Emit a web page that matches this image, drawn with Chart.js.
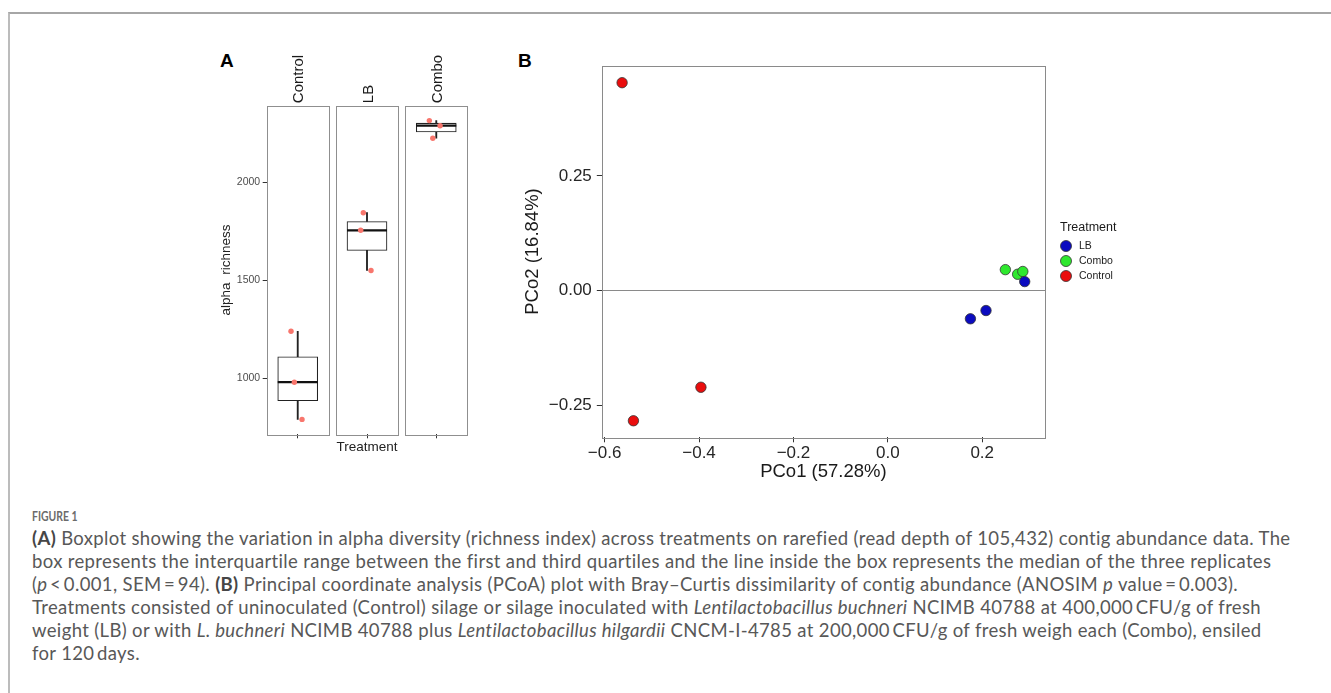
<!DOCTYPE html>
<html>
<head>
<meta charset="utf-8">
<script src="https://cdn.jsdelivr.net/npm/chart.js@4.4.0/dist/chart.umd.min.js"></script>
<style>
  html, body { margin: 0; padding: 0; background: #fff; }
  #page { position: relative; width: 1331px; height: 693px; overflow: hidden; }
  #frame { position: absolute; left: 8px; top: 12px; right: -4px; bottom: -4px;
           border-top: 2px solid #a6a6a6; border-left: 2px solid #bcbcbc; }
  #chartA { position: absolute; left: 200px; top: 40px; }
  #chartB { position: absolute; left: 510px; top: 40px; }
  .tag { position: absolute; font: bold 19px 'Liberation Sans', Arial, sans-serif; line-height: 19px; color: #000; }
  #figno { position: absolute; left: 32px; top: 508px; font: bold 13px Lato, sans-serif;
           color: #6b6b6b; line-height: 17px; transform: scaleX(0.8); transform-origin: left center; }
  #caption { position: absolute; left: 32px; top: 527px; font: 18.5px Lato, sans-serif;
             letter-spacing: 0.35px; color: #585858; line-height: 23px; white-space: nowrap; }
  #caption b { color: #464646; }
</style>
</head>
<body>
<div id="page">
  <div id="frame"></div>
  <div class="tag" style="left:220px; top:51px;">A</div>
  <div class="tag" style="left:518px; top:51px;">B</div>
  <canvas id="chartA" width="320" height="420"></canvas>
  <canvas id="chartB" width="620" height="450"></canvas>
  <div id="figno">FIGURE 1</div>
  <div id="caption">
    <b>(A)</b> Boxplot showing the variation in alpha diversity (richness index) across treatments on rarefied (read depth of 105,432) contig abundance data. The<br>
    box represents the interquartile range between the first and third quartiles and the line inside the box represents the median of the three replicates<br>
    (<i>p</i>&thinsp;&lt;&thinsp;0.001, SEM&thinsp;=&thinsp;94). <b>(B)</b> Principal coordinate analysis (PCoA) plot with Bray–Curtis dissimilarity of contig abundance (ANOSIM <i>p</i> value&thinsp;=&thinsp;0.003).<br>
    Treatments consisted of uninoculated (Control) silage or silage inoculated with <i>Lentilactobacillus buchneri</i> NCIMB 40788 at 400,000&thinsp;CFU/g of fresh<br>
    weight (LB) or with <i>L. buchneri</i> NCIMB 40788 plus <i>Lentilactobacillus hilgardii</i> CNCM-I-4785 at 200,000&thinsp;CFU/g of fresh weigh each (Combo), ensiled<br>
    for 120&thinsp;days.
  </div>
</div>

<script>
// alpha richness of the three replicates per treatment
const treatments = ["Control", "LB", "Combo"];
const richnessControl = [1240, 980, 790];
const richnessLB = [1845, 1755, 1550];
const richnessCombo = [2315, 2289, 2225];
// horizontal jitter of the replicate dots (x in facet units)
const jitterControl = [0.903, 0.951, 1.062];
const jitterLB = [1.947, 1.909, 2.058];
const jitterCombo = [2.900, 3.055, 2.950];
const richnessTicks = [1000, 1500, 2000];

// PCoA scores
const lbPC1 = [0.175, 0.208, 0.290];
const lbPC2 = [-0.061, -0.043, 0.020];
const comboPC1 = [0.249, 0.275, 0.286];
const comboPC2 = [0.046, 0.036, 0.042];
const controlPC1 = [-0.563, -0.539, -0.396];
const controlPC2 = [0.453, -0.283, -0.210];
const pc1Ticks = [-0.6, -0.4, -0.2, 0, 0.2];
const pc2Ticks = [-0.25, 0, 0.25];

Chart.defaults.font.family = "'Liberation Sans', Arial, sans-serif";
Chart.defaults.animation = false;
Chart.defaults.events = [];

function quantile(values, p) {
  const s = [...values].sort((a, b) => a - b);
  const h = (s.length - 1) * p;
  const lo = Math.floor(h);
  const hi = Math.min(lo + 1, s.length - 1);
  return s[lo] + (h - lo) * (s[hi] - s[lo]);
}

function minusFmt(v, digits) {
  const t = Math.abs(v).toFixed(digits);
  return v < 0 ? "\u2212" + t : t;
}

const groups = [richnessControl, richnessLB, richnessCombo];
const jitters = [jitterControl, jitterLB, jitterCombo];
const stats = groups.map((g, i) => ({
  x: i + 1,
  min: Math.min(...g),
  q1: quantile(g, 0.25),
  med: quantile(g, 0.5),
  q3: quantile(g, 0.75),
  max: Math.max(...g),
}));

const facetGap = 0.052;

// facet panels and strip labels
const facetPlugin = {
  id: "facets",
  beforeDatasetsDraw(chart) {
    const { ctx, chartArea, scales } = chart;
    ctx.save();
    ctx.strokeStyle = "#8f8f8f";
    ctx.lineWidth = 1;
    treatments.forEach((name, i) => {
      const l = scales.x.getPixelForValue(i + 0.5 + facetGap);
      const r = scales.x.getPixelForValue(i + 1.5 - facetGap);
      ctx.strokeRect(Math.round(l) + 0.5, Math.round(chartArea.top) + 0.5,
        Math.round(r - l), Math.round(chartArea.bottom - chartArea.top));
      const cx = scales.x.getPixelForValue(i + 1);
      ctx.save();
      ctx.translate(cx + 1.5, chartArea.top - 2.5);
      ctx.rotate(-Math.PI / 2);
      ctx.fillStyle = "#1a1a1a";
      ctx.font = "15px 'Liberation Sans', Arial, sans-serif";
      ctx.textAlign = "left";
      ctx.textBaseline = "middle";
      ctx.fillText(name, 0, 0);
      ctx.restore();
    });
    ctx.restore();
  },
  // median line, drawn right after the boxes so the dots stay on top
  afterDatasetDraw(chart, args) {
    if (args.index !== 1) return;
    const { ctx, scales } = chart;
    ctx.save();
    ctx.strokeStyle = "#111";
    ctx.lineWidth = 2.3;
    args.meta.data.forEach((bar, i) => {
      const y = scales.y.getPixelForValue(stats[i].med);
      ctx.beginPath();
      ctx.moveTo(bar.x - bar.width / 2, y);
      ctx.lineTo(bar.x + bar.width / 2, y);
      ctx.stroke();
    });
    ctx.restore();
  },
};

new Chart(document.getElementById("chartA"), {
  type: "bar",
  data: {
    datasets: [
      {
        type: "scatter",
        label: "replicates",
        data: groups.flatMap((g, i) => g.map((v, j) => ({ x: jitters[i][j], y: v }))),
        backgroundColor: "#f8766d",
        borderWidth: 0,
        pointRadius: 2.7,
        order: 0,
      },
      {
        label: "box",
        data: stats.map((s) => ({ x: s.x, y: [s.q1, s.q3] })),
        backgroundColor: "#fff",
        borderColor: "#222",
        borderWidth: 1.1,
        borderSkipped: false,
        barThickness: 40,
        grouped: false,
        order: 1,
      },
      {
        label: "upper whisker",
        data: stats.map((s) => ({ x: s.x, y: [s.q3, s.max] })),
        backgroundColor: "#222",
        barThickness: 1.2,
        grouped: false,
        order: 2,
      },
      {
        label: "lower whisker",
        data: stats.map((s) => ({ x: s.x, y: [s.min, s.q1] })),
        backgroundColor: "#222",
        barThickness: 1.2,
        grouped: false,
        order: 3,
      },
    ],
  },
  options: {
    responsive: false,
    layout: { padding: { top: 65.7, right: 52.7, left: 0, bottom: 0 } },
    plugins: { legend: { display: false }, tooltip: { enabled: false } },
    scales: {
      x: {
        type: "linear",
        offset: false,
        min: 0.5 + facetGap,
        max: 3.5 - facetGap,
        afterBuildTicks: (s) => { s.ticks = treatments.map((t, i) => ({ value: i + 1 })); },
        ticks: { display: false },
        grid: { offset: false, drawOnChartArea: false, tickLength: 4, color: "#333" },
        border: { display: false },
        title: {
          display: true,
          text: "Treatment",
          color: "#222",
          font: { size: 13.5 },
          padding: { top: 0, bottom: 5 },
        },
        afterFit: (s) => { s.height = 25.7; },
      },
      y: {
        min: 714,
        max: 2391,
        afterBuildTicks: (s) => { s.ticks = richnessTicks.map((v) => ({ value: v })); },
        ticks: { color: "#4d4d4d", font: { size: 10.5 }, padding: 2.5, callback: (v) => String(v) },
        grid: { drawOnChartArea: false, tickLength: 4, color: "#333" },
        border: { display: false },
        title: {
          display: true,
          text: "alpha  richness",
          color: "#222",
          font: { size: 13.5 },
          padding: { top: 18.5, bottom: 0 },
        },
        afterFit: (s) => { s.width = 66.7; },
      },
    },
  },
  plugins: [facetPlugin],
});

// PCoA panel: frame and treatment key
const frameLegendPlugin = {
  id: "frameLegend",
  beforeDatasetsDraw(chart) {
    const { ctx, chartArea } = chart;
    ctx.save();
    ctx.strokeStyle = "#8a8a8a";
    ctx.lineWidth = 1;
    ctx.strokeRect(Math.round(chartArea.left) + 0.5, Math.round(chartArea.top) + 0.5,
      Math.round(chartArea.right - chartArea.left), Math.round(chartArea.bottom - chartArea.top));
    ctx.restore();
  },
  afterDraw(chart) {
    const { ctx, chartArea } = chart;
    const x0 = chartArea.right + 15;
    ctx.save();
    ctx.fillStyle = "#1a1a1a";
    ctx.font = "12.5px 'Liberation Sans', Arial, sans-serif";
    ctx.textBaseline = "middle";
    ctx.fillText("Treatment", x0, 188);
    ctx.font = "10.5px 'Liberation Sans', Arial, sans-serif";
    chart.data.datasets.forEach((ds, i) => {
      const y = 206 + i * 15;
      ctx.beginPath();
      ctx.arc(x0 + 6, y, 5.5, 0, Math.PI * 2);
      ctx.fillStyle = ds.backgroundColor;
      ctx.fill();
      ctx.strokeStyle = "#333";
      ctx.lineWidth = 0.8;
      ctx.stroke();
      ctx.fillStyle = "#1a1a1a";
      ctx.fillText(ds.label, x0 + 19, y + 0.5);
    });
    ctx.restore();
  },
};

const toPoints = (xs, ys) => xs.map((x, i) => ({ x, y: ys[i] }));

new Chart(document.getElementById("chartB"), {
  type: "scatter",
  data: {
    datasets: [
      { label: "LB", data: toPoints(lbPC1, lbPC2), backgroundColor: "#0b0bbf", order: 0 },
      { label: "Combo", data: toPoints(comboPC1, comboPC2), backgroundColor: "#2ee82e", order: 1 },
      { label: "Control", data: toPoints(controlPC1, controlPC2), backgroundColor: "#ea0d0d", order: 2 },
    ],
  },
  options: {
    responsive: false,
    layout: { padding: { top: 25.7, right: 85, left: 0, bottom: 0 } },
    elements: { point: { radius: 5.2, borderColor: "#333", borderWidth: 0.8 } },
    plugins: { legend: { display: false }, tooltip: { enabled: false } },
    scales: {
      x: {
        type: "linear",
        min: -0.606,
        max: 0.333,
        afterBuildTicks: (s) => { s.ticks = pc1Ticks.map((v) => ({ value: v })); },
        ticks: { color: "#262626", font: { size: 17 }, padding: 0.5, maxRotation: 0,
                 callback: (v) => minusFmt(v, 1) },
        grid: { drawOnChartArea: false, tickLength: 5, color: "#333" },
        border: { display: false },
        title: {
          display: true,
          text: "PCo1 (57.28%)",
          color: "#1a1a1a",
          font: { size: 18.5 },
          padding: { top: 0, bottom: 6.9 },
        },
        afterFit: (s) => { s.height = 52.7; },
      },
      y: {
        min: -0.319,
        max: 0.49,
        afterBuildTicks: (s) => { s.ticks = pc2Ticks.map((v) => ({ value: v })); },
        ticks: { color: "#262626", font: { size: 17 }, padding: 5,
                 callback: (v) => minusFmt(v, 2) },
        grid: {
          drawOnChartArea: true,
          tickLength: 5,
          color: (c) => (c.tick && c.tick.value === 0 ? "#8a8a8a" : "rgba(0,0,0,0)"),
          tickColor: "#333",
        },
        border: { display: false },
        title: {
          display: true,
          text: "PCo2 (16.84%)",
          color: "#1a1a1a",
          font: { size: 18.5 },
          padding: { top: 11.9, bottom: 0 },
        },
        afterFit: (s) => { s.width = 91.8; },
      },
    },
  },
  plugins: [frameLegendPlugin],
});
</script>
</body>
</html>
